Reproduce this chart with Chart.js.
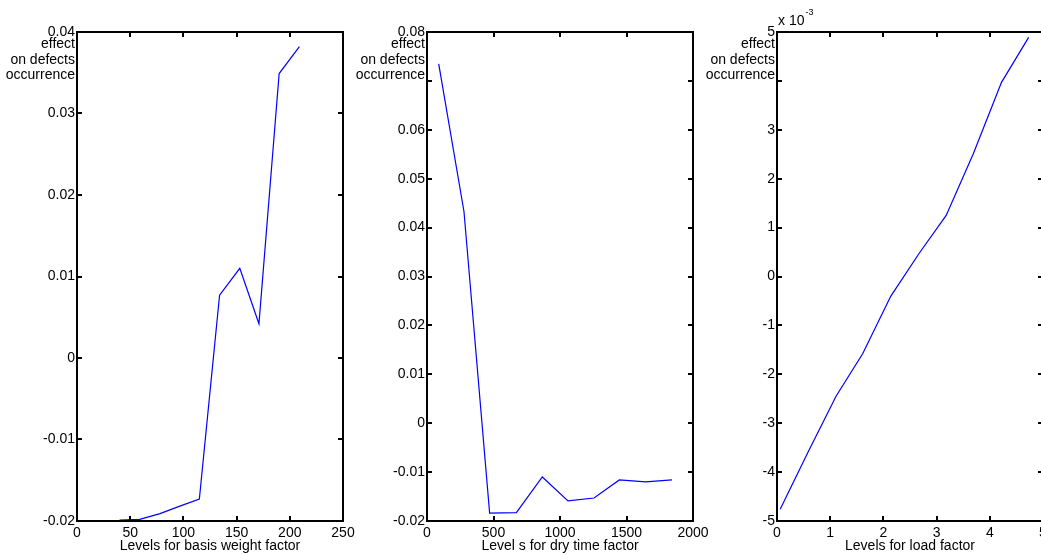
<!DOCTYPE html>
<html>
<head>
<meta charset="utf-8">
<script src="https://cdn.jsdelivr.net/npm/chart.js@4.4.1/dist/chart.umd.min.js"></script>
<style>
  html, body { margin: 0; padding: 0; background: #fff; overflow: hidden; }
  #wrap { position: relative; width: 1041px; height: 554px; overflow: hidden; }
  #wrap canvas { position: absolute; left: 0; top: 0; }
</style>
</head>
<body>
<div id="wrap">
  <canvas id="basisChart" width="1060" height="554"></canvas>
  <canvas id="dryChart" width="1060" height="554"></canvas>
  <canvas id="loadChart" width="1060" height="554"></canvas>
</div>
<script>
// basis weight factor
const basisLevels = [40, 59, 78, 96, 115, 134, 153, 171, 190, 209];
const basisEffect = [-0.0199, -0.0198, -0.0191, -0.0182, -0.0173, 0.0077, 0.0110, 0.0042, 0.0349, 0.0382];
const basisXTicks = [0, 50, 100, 150, 200, 250];
const basisYTicks = [-0.02, -0.01, 0, 0.01, 0.02, 0.03, 0.04];

// dry time factor
const dryLevels = [88, 278, 471, 672, 867, 1060, 1256, 1446, 1644, 1842];
const dryEffect = [0.0735, 0.0433, -0.0184, -0.0183, -0.0110, -0.0159, -0.0153, -0.0116, -0.0120, -0.0116];
const dryXTicks = [0, 500, 1000, 1500, 2000];
const dryYTicks = [-0.02, -0.01, 0, 0.01, 0.02, 0.03, 0.04, 0.05, 0.06, 0.07, 0.08];

// load factor (plotted x 10^-3)
const loadLevels = [0.06, 0.58, 1.11, 1.61, 2.14, 2.67, 3.18, 3.69, 4.22, 4.73];
const loadEffect = [-4.76e-3, -3.6e-3, -2.45e-3, -1.58e-3, -0.40e-3, 0.47e-3, 1.25e-3, 2.51e-3, 3.97e-3, 4.89e-3];
const loadXTicks = [0, 1, 2, 3, 4, 5];
const loadYTicks = [-5e-3, -4e-3, -3e-3, -2e-3, -1e-3, 0, 1e-3, 2e-3, 3e-3, 4e-3, 5e-3];

const yTitle = ['effect', 'on defects', 'occurrence'];
const FONT = '"Liberation Sans", Arial, Helvetica, sans-serif';
const CANVAS_W = 1060;

// frame, inward ticks on all sides and the texts around the axes
const boxPlugin = {
  id: 'matlabBox',
  afterDraw(chart, args, opts) {
    const { ctx, chartArea: a, scales } = chart;
    const x = scales.x, y = scales.y;
    ctx.save();
    ctx.strokeStyle = '#000';
    ctx.lineWidth = 2;
    ctx.beginPath();
    x.ticks.forEach(t => {
      const px = Math.round(x.getPixelForValue(t.value));
      ctx.moveTo(px, a.bottom); ctx.lineTo(px, a.bottom - 5);
      ctx.moveTo(px, a.top); ctx.lineTo(px, a.top + 5);
    });
    y.ticks.forEach(t => {
      const py = Math.round(y.getPixelForValue(t.value));
      ctx.moveTo(a.left, py); ctx.lineTo(a.left + 5, py);
      ctx.moveTo(a.right, py); ctx.lineTo(a.right - 5, py);
    });
    ctx.stroke();
    ctx.strokeRect(a.left, a.top, a.right - a.left, a.bottom - a.top);

    // y title sits on a white box, hiding the tick label under it
    ctx.font = '14px ' + FONT;
    const w = Math.max(...yTitle.map(s => ctx.measureText(s).width));
    ctx.fillStyle = '#fff';
    ctx.fillRect(a.left - w - 5, a.top + 5, w + 4, 51);
    ctx.fillStyle = '#000';
    ctx.textAlign = 'right';
    ctx.textBaseline = 'alphabetic';
    yTitle.forEach((s, i) => ctx.fillText(s, a.left - 2, a.top + 16 + i * 15.5));

    // x title
    ctx.textAlign = 'center';
    ctx.fillText(opts.xTitle, (a.left + a.right) / 2, a.bottom + 28.5);

    if (opts.exponent) {
      ctx.textAlign = 'left';
      ctx.fillText('x 10', a.left + 1, a.top - 7);
      const ew = ctx.measureText('x 10').width;
      ctx.font = '9px ' + FONT;
      ctx.fillText(opts.exponent, a.left + 2 + ew, a.top - 17);
    }
    ctx.restore();
  }
};

function makePanel(id, levels, effects, xTicks, yTicks, area, xTitle, yFormat, exponent) {
  const ctx = document.getElementById(id).getContext('2d');
  return new Chart(ctx, {
    type: 'line',
    data: {
      datasets: [{
        data: levels.map((v, i) => ({ x: v, y: effects[i] })),
        borderColor: '#0000ff',
        borderWidth: 1.2,
        pointRadius: 0,
        tension: 0,
        fill: false
      }]
    },
    options: {
      responsive: false,
      animation: false,
      events: [],
      layout: { padding: { left: area.left - 77, right: CANVAS_W - area.right, top: 32, bottom: 0 } },
      plugins: {
        legend: { display: false },
        tooltip: { enabled: false },
        matlabBox: { xTitle: xTitle, exponent: exponent }
      },
      scales: {
        x: {
          type: 'linear',
          min: xTicks[0],
          max: xTicks[xTicks.length - 1],
          grid: { display: false, drawTicks: false },
          border: { display: false },
          ticks: { color: '#000', font: { family: FONT, size: 14 }, padding: 4, autoSkip: false, maxRotation: 0, callback: v => String(v) },
          afterBuildTicks: s => { s.ticks = xTicks.map(v => ({ value: v })); },
          afterFit: s => { s.height = 33; }
        },
        y: {
          type: 'linear',
          min: yTicks[0],
          max: yTicks[yTicks.length - 1],
          grid: { display: false, drawTicks: false },
          border: { display: false },
          ticks: { color: '#000', font: { family: FONT, size: 14 }, padding: 2, autoSkip: false, callback: yFormat },
          afterBuildTicks: s => { s.ticks = yTicks.map(v => ({ value: v })); },
          afterFit: s => { s.width = 77; }
        }
      }
    },
    plugins: [boxPlugin]
  });
}

const hundredths = v => String(+v.toFixed(2));

makePanel('basisChart', basisLevels, basisEffect, basisXTicks, basisYTicks,
  { left: 77, right: 343 }, 'Levels for basis weight factor', hundredths);
makePanel('dryChart', dryLevels, dryEffect, dryXTicks, dryYTicks,
  { left: 427, right: 693 }, 'Level s for dry time factor', hundredths);
makePanel('loadChart', loadLevels, loadEffect, loadXTicks, loadYTicks,
  { left: 777, right: 1043 }, 'Levels for load factor', v => String(Math.round(v * 1000)), '-3');
</script>
</body>
</html>
